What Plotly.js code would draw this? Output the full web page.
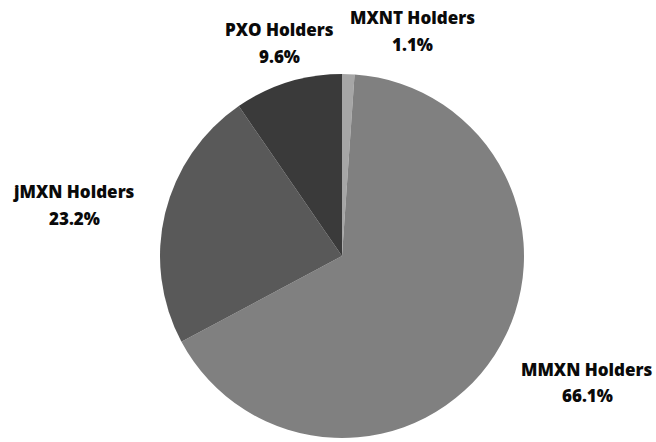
<!DOCTYPE html>
<html>
<head>
<meta charset="utf-8">
<script src="https://cdn.plot.ly/plotly-3.0.1.min.js"></script>
<style>html,body{margin:0;padding:0;background:#fff;}#chart{width:656px;height:442px;}</style>
</head>
<body>
<div id="chart"></div>
<script>
const categories = ["MXNT Holders", "MMXN Holders", "jMXN Holders", "PXO Holders"];
const values = [1.1, 66.1, 23.2, 9.6];
const percentLabels = ["1.1%", "66.1%", "23.2%", "9.6%"];
const sliceColors = ["#a6a6a6", "#808080", "#595959", "#3a3a3a"];

// label anchor positions (pixels in the 656x442 canvas): [x, nameY, pctY]
const labelPos = [[412, 18, 45], [587, 369, 395], [74, 191, 218], [279, 30, 56]];

const W = 656, H = 442;
const cx = 342, cy = 256, r = 182;

const annotations = [];
categories.forEach((c, i) => {
  const p = labelPos[i];
  annotations.push({x: p[0] / W, y: 1 - p[1] / H, xref: "paper", yref: "paper",
    text: c, showarrow: false, xanchor: "center", yanchor: "middle",
    font: {family: "Open Sans", size: 17, weight: 800, color: "#0a0a0a"}});
  annotations.push({x: p[0] / W, y: 1 - p[2] / H, xref: "paper", yref: "paper",
    text: percentLabels[i], showarrow: false, xanchor: "center", yanchor: "middle",
    font: {family: "Open Sans", size: 17, weight: 800, color: "#0a0a0a"}});
});

const trace = {
  type: "pie",
  labels: categories,
  values: values,
  sort: false,
  direction: "clockwise",
  rotation: 0,
  textinfo: "none",
  hoverinfo: "label+percent",
  marker: {colors: sliceColors, line: {width: 0}},
  domain: {x: [(cx - r) / W, (cx + r) / W], y: [(H - cy - r) / H, (H - cy + r) / H]}
};

Plotly.newPlot("chart", [trace], {
  width: W, height: H,
  margin: {l: 0, r: 0, t: 0, b: 0},
  showlegend: false,
  paper_bgcolor: "#fff",
  annotations: annotations
}, {displayModeBar: false, staticPlot: true});
</script>
</body>
</html>
